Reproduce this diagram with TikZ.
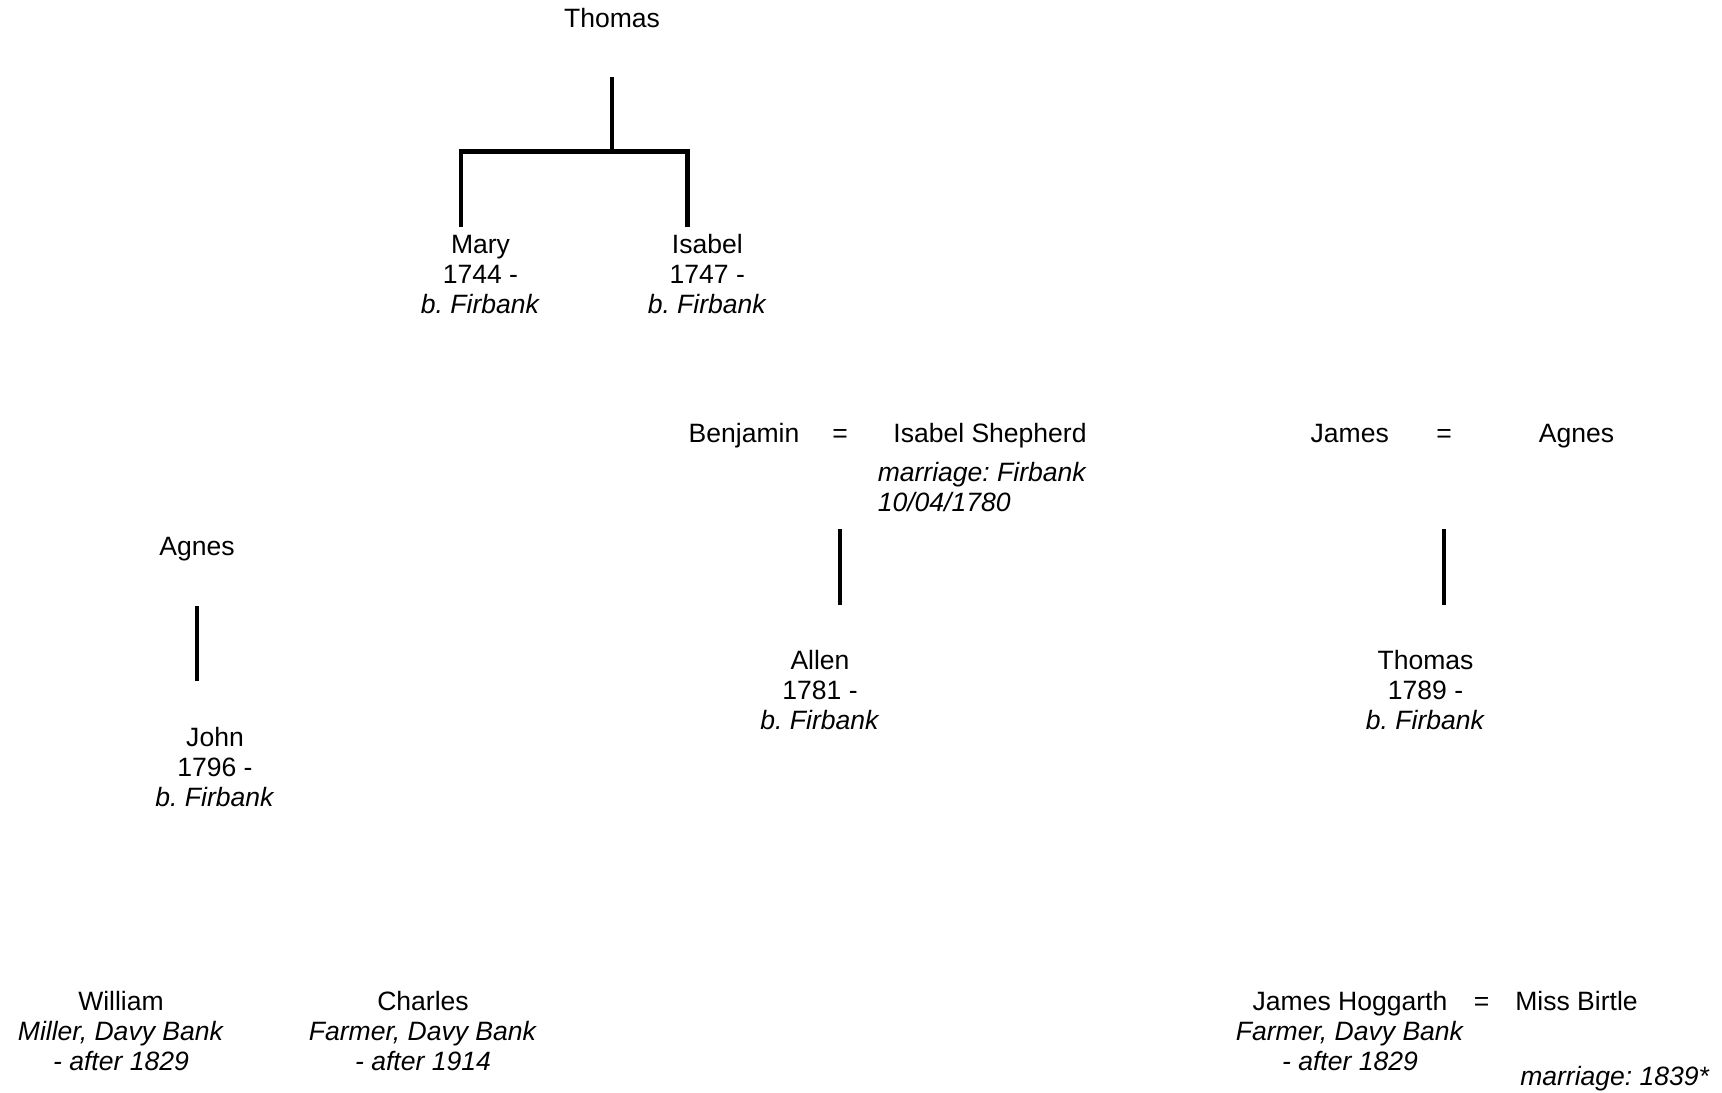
\documentclass[tikz,border=0pt]{standalone}
\usepackage{fontspec}
\setmainfont{Liberation Sans}
\frenchspacing
\begin{document}
\begin{tikzpicture}[x=0.75pt,y=-0.75pt,
 txt/.style={inner sep=0pt, font=\fontsize{19.9}{22.5}\selectfont},
 person/.style={txt, align=center, anchor=north},
 single/.style={txt, anchor=base},
 link/.style={line width=3.2pt}]
\useasboundingbox (0,0) rectangle (1722,1092);
% people
\node[single] (thomasA) at (612,27.5) {Thomas};
\node[person] (mary) at (480.5,234.5) {Mary\\1744 -\\\textit{b. Firbank}};
\node[person] (isabel) at (707.3,234.5) {Isabel\\1747 -\\\textit{b. Firbank}};
\node[single] (benjamin) at (744,442) {Benjamin};
\node[single] (eqA) at (840,442) {=};
\node[single] (isabelS) at (990,442) {Isabel Shepherd};
\node[txt, align=left, anchor=north west] (marrA) at (877.5,461.5) {\textit{marriage: Firbank}\\\textit{10/04/1780}};
\node[single] (james) at (1349.7,442) {James};
\node[single] (eqB) at (1444,442) {=};
\node[single] (agnesB) at (1576.5,442) {Agnes};
\node[single] (agnesA) at (197,555.5) {Agnes};
\node[person] (john) at (215,726.5) {John\\1796 -\\\textit{b. Firbank}};
\node[person] (allen) at (820,650) {Allen\\1781 -\\\textit{b. Firbank}};
\node[person] (thomasB) at (1425.5,650) {Thomas\\1789 -\\\textit{b. Firbank}};
\node[person] (william) at (121,990.5) {William\\\textit{Miller, Davy Bank}\\\textit{- after 1829}};
\node[person] (charles) at (423,990.5) {Charles\\\textit{Farmer, Davy Bank}\\\textit{- after 1914}};
\node[person] (jamesH) at (1350,990.5) {James Hoggarth\\\textit{Farmer, Davy Bank}\\\textit{- after 1829}};
\node[single] (eqC) at (1481.5,1010) {=};
\node[single] (missB) at (1576.5,1010) {Miss Birtle};
\node[single, anchor=base west] (marrB) at (1520,1085.5) {\textit{marriage: 1839*}};
% connector end points
\coordinate (thomasA-d) at (612,77);
\coordinate (fork) at (612,151.5);
\coordinate (mary-u) at (461,227);
\coordinate (isabel-u) at (687.5,227);
\coordinate (bi-d) at (840,529);
\coordinate (allen-u) at (840,605);
\coordinate (ja-d) at (1444,529);
\coordinate (thomasB-u) at (1444,605);
\coordinate (agnesA-d) at (197,606);
\coordinate (john-u) at (197,681);
% connectors
\draw[link] (thomasA-d) -- (fork);
\draw[link] (mary-u) |- (fork) -| (isabel-u);
\draw[link] (bi-d) -- (allen-u);
\draw[link] (ja-d) -- (thomasB-u);
\draw[link] (agnesA-d) -- (john-u);
\end{tikzpicture}
\end{document}
